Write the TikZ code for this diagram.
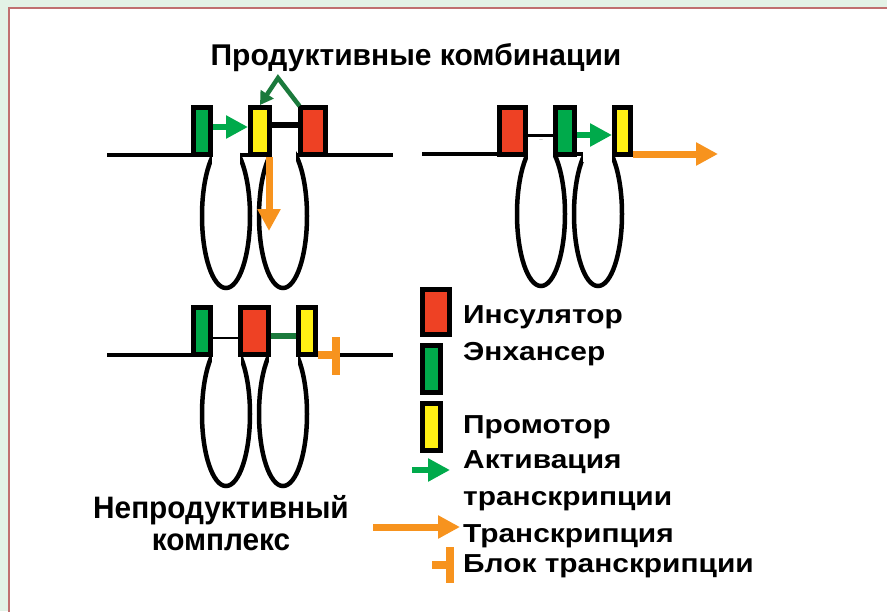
\documentclass[tikz,border=0pt]{standalone}
\usepackage{fontspec}
\setmainfont{Liberation Sans}
\newfontfamily\legfont[FakeStretch=1.15]{Liberation Sans}
\newfontfamily\npfont[FakeStretch=0.96]{Liberation Sans}
\usetikzlibrary{arrows.meta}
\definecolor{bggreen}{RGB}{227,242,230}
\definecolor{framered}{RGB}{192,112,112}
\definecolor{cgreen}{RGB}{0,170,75}
\definecolor{cred}{RGB}{238,65,36}
\definecolor{cyellow}{RGB}{255,240,20}
\definecolor{corange}{RGB}{247,147,30}
\definecolor{cdgreen}{RGB}{27,122,60}
\begin{document}
\begin{tikzpicture}[x=1pt,y=-1pt,
  elbox/.style={draw=black, line width=5pt, minimum height=47pt, inner sep=0pt},
  loopline/.style={draw=black, line width=4.5pt},
  dnaline/.style={draw=black, line width=4.5pt},
  hide/.style={fill=white, draw=none},
  garrow/.style={draw=cgreen, line width=6.5pt, -{Triangle[length=22pt,width=22pt]}},
  oarrow/.style={draw=corange, line width=7pt, -{Triangle[length=22pt,width=22pt]}},
  dgarrow/.style={draw=cdgreen, line width=4.5pt, line join=miter, -{Triangle[length=13pt,width=15pt]}},
  oblock/.style={draw=corange, line width=7.5pt},
  lbl/.style={font=\legfont\bfseries\fontsize{26}{30}\selectfont, anchor=base west, inner sep=0pt},
  big/.style={font=\bfseries\fontsize{30}{34}\selectfont, anchor=base, inner sep=0pt},
  npl/.style={font=\npfont\bfseries\fontsize{31}{34}\selectfont, anchor=base, inner sep=0pt}]
\useasboundingbox (0,0) rectangle (887,611);
\clip (0,0) rectangle (887,611);
% background and frame
\fill[bggreen] (0,0) rectangle (887,611);
\draw[framered, line width=2pt, fill=white] (9,8) rectangle (905,630);

% ---------- top-left: productive ----------
\draw[dnaline] (107,155) -- (393,155);
\draw[loopline] (226,216) ellipse [x radius=24, y radius=72];
\draw[loopline] (283,216) ellipse [x radius=24, y radius=72];
\fill[hide] (212,141) rectangle (240,166);
\fill[hide] (269,141) rectangle (296,166);
\node[elbox, fill=cgreen, minimum width=17pt] (g1) at (202,131) {};
\node[elbox, fill=cyellow, minimum width=19pt] (y1) at (260,131) {};
\node[elbox, fill=cred, minimum width=25pt] (r1) at (313,131) {};
\draw[black, line width=6pt] ([yshift=6pt]y1.east) -- ([yshift=6pt]r1.west);
\draw[garrow] ([yshift=4pt]g1.east) -- ([yshift=4pt]y1.west);
\coordinate (t1) at (269,231);
\draw[oarrow] ([xshift=9pt]y1.south) -- (t1);
\coordinate (apex) at (278,78);
\draw[dgarrow] ([xshift=1.5pt,yshift=-1pt]r1.north west) -- (apex) -- (y1.north);

% ---------- top-right: productive ----------
\draw[dnaline] (422,154) -- (612,154);
\draw[loopline] (541,214) ellipse [x radius=24, y radius=72];
\draw[loopline] (598,214) ellipse [x radius=24, y radius=72];
\fill[hide] (528,140) rectangle (553,162);
\fill[hide] (583,140) rectangle (612,162);
\node[elbox, fill=cred, minimum width=26pt] (r2) at (512.5,131) {};
\node[elbox, fill=cgreen, minimum width=19pt] (g2) at (565,131) {};
\node[elbox, fill=cyellow, minimum width=16pt] (y2) at (622.5,131) {};
\draw[black, line width=3pt] ([yshift=-4pt]r2.east) -- ([yshift=-4pt]g2.west);
\draw[garrow] ([yshift=-4pt]g2.east) -- ([yshift=-4pt]y2.west);
\coordinate (t2) at (718,154);
\draw[oarrow] ([yshift=-23pt]y2.east) -- (t2);

% ---------- bottom-left: non-productive ----------
\draw[dnaline] (107,355) -- (393,355);
\draw[loopline] (226,414) ellipse [x radius=24, y radius=72];
\draw[loopline] (283,414) ellipse [x radius=24, y radius=72];
\fill[hide] (212,339) rectangle (241,365);
\fill[hide] (269,339) rectangle (298,365);
\node[elbox, fill=cgreen, minimum width=17pt] (g3) at (202,331) {};
\node[elbox, fill=cred, minimum width=28pt] (r3) at (254.5,331) {};
\node[elbox, fill=cyellow, minimum width=17pt] (y3) at (307,331) {};
\draw[black, line width=2pt] ([yshift=-7pt]g3.east) -- ([yshift=-7pt]r3.west);
\draw[cdgreen, line width=6pt] ([yshift=-5pt]r3.east) -- ([yshift=-5pt]y3.west);
\coordinate (b1) at (336,355);
\draw[oblock] ([yshift=-24pt]y3.east) -- (b1);
\draw[oblock] (336,337) -- (336,375);

% ---------- legend ----------
\node[elbox, fill=cred, minimum width=27pt, minimum height=45pt] (lr) at (436,312) {};
\node[elbox, fill=cgreen, minimum width=18pt] (lg) at (431.5,369) {};
\node[elbox, fill=cyellow, minimum width=18pt] (ly) at (431.5,427) {};
\coordinate (la1) at (412,470);
\coordinate (la2) at (450,470);
\draw[garrow] (la1) -- (la2);
\coordinate (lo1) at (373,527);
\coordinate (lo2) at (460,527);
\draw[oarrow] (lo1) -- (lo2);
\coordinate (lb1) at (432,565);
\coordinate (lb2) at (450,565);
\draw[oblock] (lb1) -- (lb2);
\draw[oblock] (450,547) -- (450,583);

\node[lbl] (t-ins) at (463,323) {Инсулятор};
\node[lbl] (t-enh) at (463,360) {Энхансер};
\node[lbl] (t-pro) at (463,433) {Промотор};
\node[lbl] (t-act) at (463,468) {Активация};
\node[lbl] (t-act2) at (463,505) {транскрипции};
\node[lbl] (t-tr) at (463,542) {Транскрипция};
\node[lbl] (t-bl) at (463,572) {Блок транскрипции};

% ---------- titles ----------
\node[big] (title) at (416,65) {Продуктивные комбинации};
\node[npl] (np1) at (221,518) {Непродуктивный};
\node[npl] (np2) at (221,550) {комплекс};
\end{tikzpicture}
\end{document}
